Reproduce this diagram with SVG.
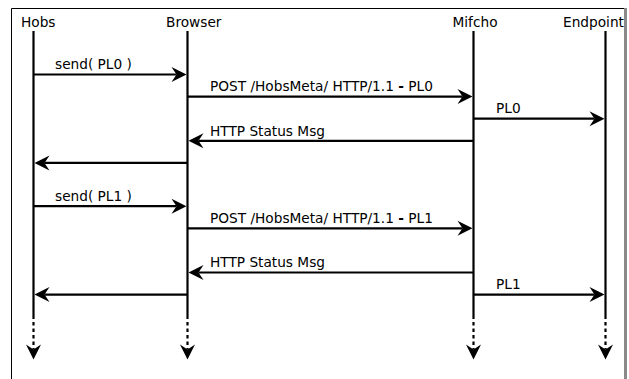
<svg xmlns="http://www.w3.org/2000/svg" width="629" height="379" viewBox="0 0 629 379">
  <defs>
    <style>
      text { font-family: "DejaVu Sans", "Liberation Sans", sans-serif; font-size: 13.7px; fill: #000; }
      .life { stroke: #000; stroke-width: 2.2; fill: none; }
      .tail { stroke: #000; stroke-width: 2.2; fill: none; stroke-dasharray: 3.5 3; }
      .msg { stroke: #000; stroke-width: 2.2; fill: none; marker-end: url(#head); }
      .b { font-weight: bold; }
    </style>
    <marker id="head" markerUnits="userSpaceOnUse" orient="auto" viewBox="-6 -8 17 16" refX="0" refY="0" markerWidth="17" markerHeight="16" overflow="visible">
      <path d="M10,0 L-5,-7.5 L0,0 L-5,7.5 Z" fill="#000"/>
    </marker>
  </defs>

  <rect width="629" height="379" fill="#fff"/>

  <!-- frame -->
  <path d="M11.5,379 V8.5 H625" fill="none" stroke="#000" stroke-width="1"/>
  <rect x="624" y="8" width="3" height="371" fill="#8a8a8a"/>

  <!-- lifelines -->
  <g id="hobs">
    <text x="21" y="27">Hobs</text>
    <line class="life" x1="33.5" y1="31" x2="33.5" y2="319"/>
    <line class="tail msg" x1="33.5" y1="322" x2="33.5" y2="349.5"/>
  </g>
  <g id="browser">
    <text x="166" y="27">Browser</text>
    <line class="life" x1="187.5" y1="31" x2="187.5" y2="319"/>
    <line class="tail msg" x1="187.5" y1="322" x2="187.5" y2="349.5"/>
  </g>
  <g id="mifcho">
    <text x="452.5" y="27">Mifcho</text>
    <line class="life" x1="473.5" y1="31" x2="473.5" y2="319"/>
    <line class="tail msg" x1="473.5" y1="322" x2="473.5" y2="349.5"/>
  </g>
  <g id="endpoint">
    <text x="563" y="27">Endpoint</text>
    <line class="life" x1="605.5" y1="31" x2="605.5" y2="319"/>
    <line class="tail msg" x1="605.5" y1="322" x2="605.5" y2="349.5"/>
  </g>

  <!-- messages -->
  <g id="connectors">
    <line class="msg" x1="33.5" y1="74.5" x2="176.5" y2="74.5"/>
    <text x="55" y="69.2">send( PL0 )</text>

    <line class="msg" x1="187.5" y1="96.6" x2="462.5" y2="96.6"/>
    <text x="210" y="91.4">POST /HobsMeta/ HTTP/1.1 <tspan class="b">-</tspan> PL0</text>

    <line class="msg" x1="473.5" y1="118.7" x2="594.5" y2="118.7"/>
    <text x="496" y="113.4">PL0</text>

    <line class="msg" x1="473.5" y1="140.8" x2="198.5" y2="140.8"/>
    <text x="210" y="135.5">HTTP Status Msg</text>

    <line class="msg" x1="187.5" y1="162.9" x2="44.5" y2="162.9"/>

    <line class="msg" x1="33.5" y1="206.2" x2="176.5" y2="206.2"/>
    <text x="55" y="200.9">send( PL1 )</text>

    <line class="msg" x1="187.5" y1="228.3" x2="462.5" y2="228.3"/>
    <text x="210" y="223">POST /HobsMeta/ HTTP/1.1 <tspan class="b">-</tspan> PL1</text>

    <line class="msg" x1="473.5" y1="272.5" x2="198.5" y2="272.5"/>
    <text x="210" y="267.2">HTTP Status Msg</text>

    <line class="msg" x1="187.5" y1="294.6" x2="44.5" y2="294.6"/>

    <line class="msg" x1="473.5" y1="294.6" x2="594.5" y2="294.6"/>
    <text x="496" y="289.3">PL1</text>
  </g>
</svg>
